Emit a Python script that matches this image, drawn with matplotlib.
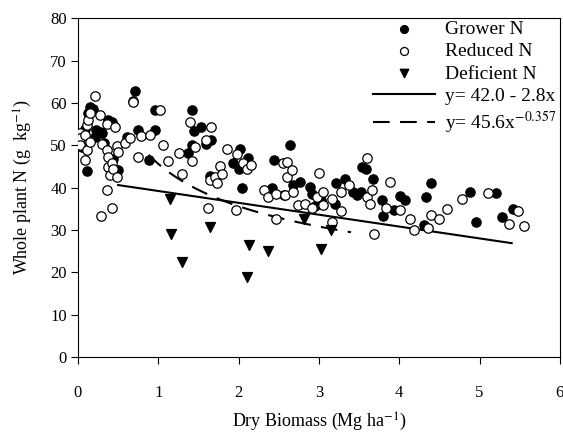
import matplotlib.pyplot as plt
import numpy as np

plt.rcParams['font.family'] = 'Liberation Serif'
plt.rcParams['mathtext.fontset'] = 'stix'

# Grower N (filled circles)
grower_x = [0.11, 0.05, 0.09, 0.13, 0.15, 0.19, 0.21, 0.23, 0.27, 0.38, 0.42, 0.30, 0.33,
            0.44, 0.50, 0.61, 0.71, 0.69, 0.75, 0.88, 0.96, 0.96, 1.37, 1.42, 1.42,
            1.44, 1.53, 1.60, 1.64, 1.66, 1.93, 2.00, 2.02, 2.04, 2.12, 2.41, 2.44,
            2.56, 2.64, 2.68, 2.76, 2.89, 2.91, 2.95, 3.03, 3.20, 3.21, 3.33, 3.43,
            3.47, 3.52, 3.53, 3.59, 3.67, 3.79, 3.80, 3.93, 4.01, 4.07, 4.31, 4.33,
            4.40, 4.88, 4.96, 5.20, 5.28, 5.41]
grower_y = [43.9, 49.6, 53.9, 57.5, 59.0, 58.6, 52.0, 53.5, 53.1, 55.9, 55.5, 53.0, 50.5,
            46.8, 44.1, 52.0, 62.8, 60.4, 53.5, 46.5, 53.7, 58.3, 48.2, 50.0, 58.4,
            53.3, 54.3, 50.4, 42.8, 51.3, 45.7, 44.3, 49.2, 39.8, 47.1, 39.8, 46.5,
            38.2, 50.0, 40.6, 41.4, 40.2, 38.6, 35.6, 37.0, 36.2, 41.0, 42.1, 39.0,
            38.2, 39.0, 44.9, 44.3, 42.0, 37.0, 33.3, 34.7, 38.0, 37.0, 31.2, 37.8,
            41.2, 39.0, 31.8, 38.8, 33.1, 35.0]

# Reduced N (open circles)
reduced_x = [0.02, 0.02, 0.02, 0.09, 0.09, 0.11, 0.11, 0.13, 0.15, 0.15, 0.21, 0.27,
             0.29, 0.30, 0.36, 0.36, 0.36, 0.38, 0.38, 0.40, 0.42, 0.42, 0.44, 0.46,
             0.48, 0.48, 0.50, 0.59, 0.65, 0.69, 0.75, 0.79, 0.90, 1.02, 1.06, 1.12,
             1.26, 1.29, 1.39, 1.42, 1.46, 1.59, 1.62, 1.64, 1.65, 1.71, 1.73, 1.77,
             1.79, 1.85, 1.97, 1.98, 2.06, 2.10, 2.16, 2.32, 2.37, 2.46, 2.47, 2.55,
             2.58, 2.60, 2.60, 2.67, 2.68, 2.74, 2.83, 2.91, 2.97, 3.00, 3.05, 3.05,
             3.16, 3.16, 3.28, 3.28, 3.37, 3.60, 3.60, 3.64, 3.66, 3.69, 3.84, 3.88,
             4.01, 4.13, 4.18, 4.36, 4.40, 4.49, 4.59, 4.78, 5.10, 5.37, 5.48, 5.55]
reduced_y = [52.8, 51.6, 50.0, 52.4, 46.5, 48.8, 54.7, 55.9, 57.5, 50.8, 61.6, 57.1,
             33.3, 50.4, 55.1, 48.8, 39.5, 47.2, 44.9, 42.9, 45.7, 35.3, 44.5, 54.3,
             49.8, 42.5, 48.4, 50.5, 51.6, 60.2, 47.2, 52.1, 52.4, 58.3, 50.0, 46.2,
             48.2, 43.2, 55.5, 46.2, 49.6, 51.3, 35.1, 41.9, 54.3, 42.5, 41.1, 45.0,
             43.2, 49.2, 34.8, 47.9, 45.8, 44.5, 45.3, 39.4, 37.8, 32.5, 38.6, 45.8,
             38.2, 46.1, 42.5, 44.1, 39.0, 35.8, 36.1, 35.1, 37.8, 43.5, 39.0, 35.8,
             37.4, 31.9, 39.0, 34.4, 40.6, 46.9, 37.8, 36.2, 39.4, 29.0, 35.3, 41.4,
             34.7, 32.5, 30.0, 30.4, 33.5, 32.5, 35.0, 37.2, 38.8, 31.3, 34.4, 30.9]

# Deficient N (filled down triangles)
deficient_x = [1.15, 1.16, 1.30, 1.64, 2.10, 2.13, 2.37, 2.81, 3.02, 3.15]
deficient_y = [37.3, 29.0, 22.4, 30.6, 18.9, 26.5, 25.0, 32.5, 25.4, 30.1]

# fitted curves
lin_x = np.linspace(0.5, 5.4, 50)
lin_y = 42.0 - 2.8 * lin_x
pow_x = np.linspace(0.88, 3.4, 50)
pow_y = 45.6 * pow_x ** -0.357

fig = plt.figure(figsize=(5.63, 4.33), dpi=100)
ax = fig.add_axes([0.1385, 0.1755, 0.856, 0.7825])

ax.scatter(grower_x, grower_y, s=46, c='black', edgecolors='black', linewidths=0.8,
           label='Grower N', zorder=3)
ax.scatter(reduced_x, reduced_y, s=46, c='white', edgecolors='black', linewidths=0.9,
           label='Reduced N', zorder=3)
ax.scatter(deficient_x, deficient_y, s=50, c='black', marker='v',
           label='Deficient N', zorder=3)
ax.plot(lin_x, lin_y, color='black', lw=1.5, label='y= 42.0 - 2.8x', zorder=2)
ax.plot(pow_x, pow_y, color='black', lw=1.5, dashes=(8, 5),
        label='y= 45.6x$^{-0.357}$', zorder=2)

ax.set_xlim(0, 6)
ax.set_ylim(0, 80)
ax.set_xticks(range(0, 7))
ax.set_yticks(range(0, 81, 10))
ax.tick_params(direction='out', length=5, labelsize=12)
ax.tick_params(axis='x', pad=15)
ax.tick_params(axis='y', pad=3)

ax.set_xlabel('Dry Biomass (Mg ha$^{-1}$)', fontsize=13, labelpad=7)
ax.set_ylabel('Whole plant N (g  kg$^{-1}$)', fontsize=13)
ax.yaxis.set_label_coords(-0.092, 0.5)

leg = ax.legend(loc='upper right', bbox_to_anchor=(1.0, 1.005), frameon=False,
                fontsize=14, handlelength=3.2, markerscale=0.85, labelspacing=0.24,
                borderaxespad=0.0, borderpad=0.2, handletextpad=0.5)

plt.savefig('out.png', dpi=100)
